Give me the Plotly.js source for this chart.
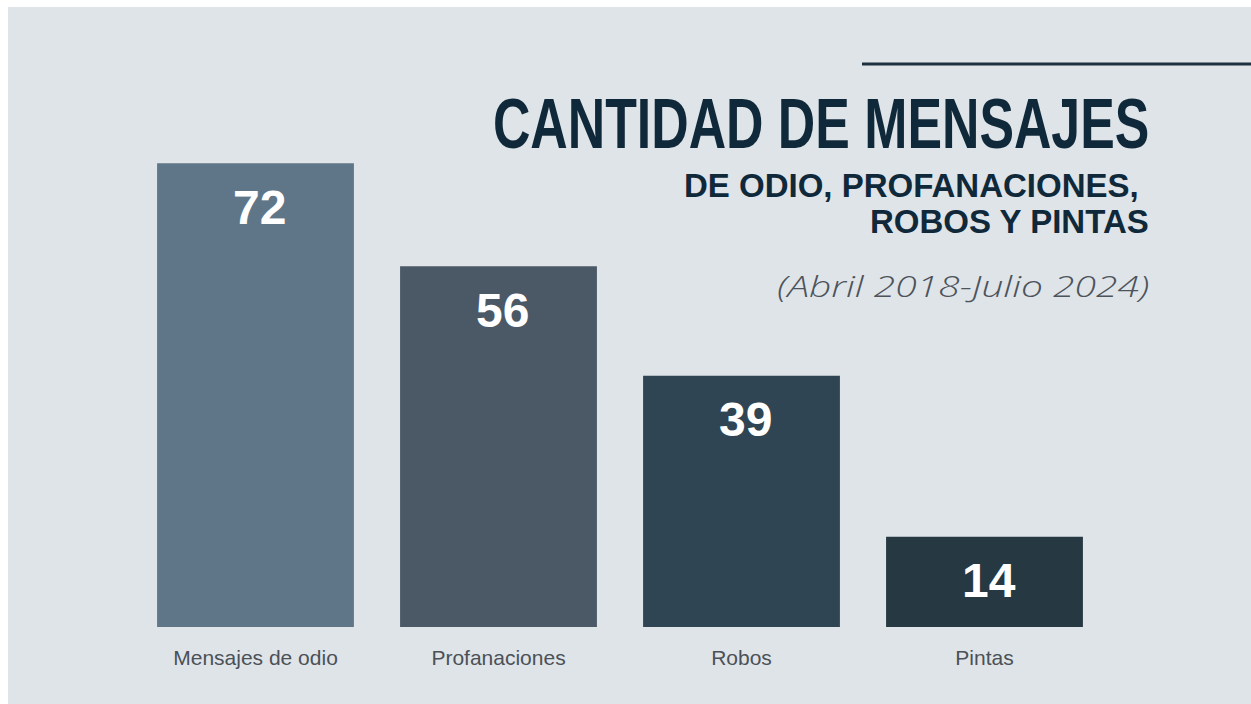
<!DOCTYPE html>
<html><head><meta charset="utf-8">
<script src="https://cdn.plot.ly/plotly-3.0.1.min.js"></script>
<style>
html,body{margin:0;padding:0;background:#ffffff;}
#chart{position:absolute;left:8px;top:7px;width:1243px;height:697px;}
</style></head><body><div id="chart"></div>
<script>
const categories = ["Mensajes de odio", "Profanaciones", "Robos", "Pintas"];
const values = [72, 56, 39, 14];
const barColors = ["#5f7689", "#4b5865", "#2f4554", "#263841"];
const titleText = "CANTIDAD DE MENSAJES";
const subtitleLine1 = "DE ODIO, PROFANACIONES,";
const subtitleLine2 = "ROBOS Y PINTAS";
const periodText = "(Abril 2018-Julio 2024)";

// page-pixel -> paper helpers (plot area spans x 134..1106, y 100..627 on the page)
const px = x => (x - 134) / 972;
const py = y => (627 - y) / 527;

const valueAnnotations = categories.map((c, i) => ({
  x: c, y: values[i], xref: 'x', yref: 'y',
  text: String(values[i]), showarrow: false,
  yanchor: 'middle', yshift: -44, xshift: 4,
  font: {family: 'Liberation Sans, Arial, sans-serif', size: 48, weight: 700, color: '#ffffff'}
}));

const textAnnotations = [
  {x: px(1151), y: py(123), xref: 'paper', yref: 'paper', xanchor: 'right', yanchor: 'middle',
   text: titleText, showarrow: false,
   font: {family: 'Liberation Sans, Arial, sans-serif', size: 71, weight: 700, color: '#10293a'}},
  {x: px(1141), y: py(185), xref: 'paper', yref: 'paper', xanchor: 'right', yanchor: 'middle',
   text: subtitleLine1, showarrow: false,
   font: {family: 'Liberation Sans, Arial, sans-serif', size: 33, weight: 700, color: '#10293a'}},
  {x: px(1151), y: py(222), xref: 'paper', yref: 'paper', xanchor: 'right', yanchor: 'middle',
   text: subtitleLine2, showarrow: false,
   font: {family: 'Liberation Sans, Arial, sans-serif', size: 33, weight: 700, color: '#10293a'}},
  {x: px(1151), y: py(285), xref: 'paper', yref: 'paper', xanchor: 'right', yanchor: 'middle',
   text: periodText, showarrow: false,
   font: {family: 'Open Sans, sans-serif', size: 30, weight: 300, style: 'italic', color: '#4c535a'}}
];

const data = [{
  type: 'bar', x: categories, y: values,
  marker: {color: barColors, line: {width: 0}},
  hoverinfo: 'skip', textposition: 'none'
}];

const layout = {
  width: 1243, height: 697,
  margin: {l: 126, r: 145, t: 93, b: 77, pad: 0},
  paper_bgcolor: '#dfe4e9', plot_bgcolor: 'rgba(0,0,0,0)',
  bargap: 0.19, showlegend: false,
  xaxis: {type: 'category', showgrid: false, zeroline: false, showline: false,
    ticks: 'outside', ticklen: 12, tickcolor: 'rgba(0,0,0,0)',
    tickfont: {family: 'Liberation Sans, Arial, sans-serif', size: 21, color: '#4b5157'},
    fixedrange: true},
  yaxis: {visible: false, range: [0, 81.8], fixedrange: true},
  shapes: [{type: 'line', xref: 'paper', yref: 'paper', x0: px(862), x1: px(1252), y0: py(64), y1: py(64),
    line: {color: '#1c3140', width: 3}}],
  annotations: valueAnnotations.concat(textAnnotations)
};

Plotly.newPlot('chart', data, layout, {displayModeBar: false, staticPlot: true}).then(() => {
  // adjust letter widths of the headline (condensed) and the period line (wide), anchored at the right edge
  document.querySelectorAll('#chart text.annotation-text').forEach(t => {
    let s = null;
    if (t.textContent === titleText) s = 0.73;
    if (t.textContent === periodText) s = 1.3;
    if (s !== null) {
      t.style.transformBox = 'fill-box';
      t.style.transformOrigin = 'right center';
      t.style.transform = 'scaleX(' + s + ')';
    }
  });
});
</script></body></html>
